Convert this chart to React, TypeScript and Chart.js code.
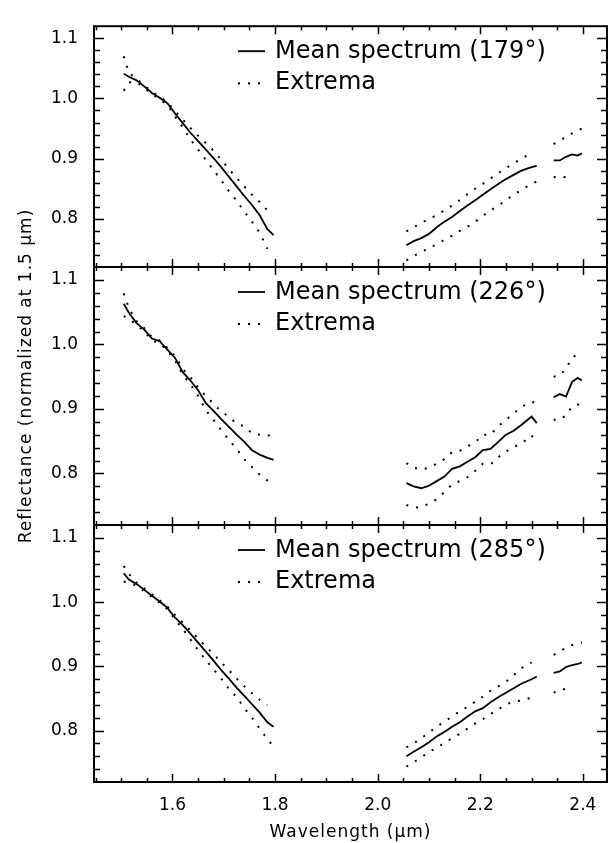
import React, { useEffect, useRef } from 'react';
import { Chart, registerables } from 'chart.js';

Chart.register(...registerables);

const FONT = '"DejaVu Sans", Verdana, sans-serif';

// Wavelength grid (µm). The entries 1.93 and 2.325 are gap markers (values null there).
const wavelength = [
  1.505, 1.515, 1.53, 1.545, 1.56, 1.575, 1.59, 1.605, 1.62, 1.635, 1.65, 1.665, 1.68, 1.695, 1.71, 1.725, 1.74, 1.755, 1.77, 1.785, 1.797,
  1.93,
  2.056, 2.07, 2.085, 2.1, 2.115, 2.13, 2.145, 2.16, 2.175, 2.19, 2.205, 2.22, 2.235, 2.25, 2.265, 2.28, 2.3, 2.31,
  2.325,
  2.343, 2.355, 2.367, 2.379, 2.39, 2.398,
];

// Panel 1 (179°)
const mean179 = [
  1.041, 1.036, 1.030, 1.020, 1.009, 1.001, 0.992, 0.975, 0.959, 0.943, 0.929, 0.915, 0.901, 0.886, 0.870, 0.854, 0.838, 0.823, 0.806, 0.783, 0.773,
  null,
  0.756, 0.763, 0.768, 0.775, 0.786, 0.795, 0.803, 0.813, 0.822, 0.831, 0.840, 0.849, 0.858, 0.866, 0.873, 0.880, 0.886, 0.888,
  null,
  0.897, 0.897, 0.903, 0.907, 0.905, 0.909,
];
const upper179 = [
  1.070, 1.043, 1.032, 1.022, 1.011, 1.003, 0.994, 0.979, 0.965, 0.951, 0.938, 0.926, 0.913, 0.898, 0.883, 0.868, 0.854, 0.840, 0.828, 0.814, null,
  null,
  0.779, 0.786, 0.793, 0.800, 0.806, 0.814, 0.822, 0.831, 0.841, 0.850, 0.858, 0.867, 0.876, 0.884, 0.892, 0.900, 0.909, null,
  null,
  0.924, 0.930, 0.936, 0.942, 0.946, 0.950,
];
const lower179 = [
  1.013, 1.027, 1.027, 1.018, 1.007, 0.999, 0.989, 0.970, 0.952, 0.932, 0.915, 0.898, 0.881, 0.864, 0.846, 0.830, 0.812, 0.795, 0.777, 0.750, null,
  null,
  0.731, 0.738, 0.745, 0.751, 0.758, 0.765, 0.772, 0.780, 0.787, 0.795, 0.805, 0.814, 0.822, 0.831, 0.840, 0.848, 0.858, 0.862,
  null,
  0.869, 0.870, 0.869, 0.867, null, null,
];

// Panel 2 (226°)
const mean226 = [
  1.063, 1.049, 1.033, 1.023, 1.009, 1.005, 0.992, 0.979, 0.957, 0.944, 0.929, 0.909, 0.897, 0.884, 0.872, 0.860, 0.849, 0.836, 0.829, 0.824, 0.821,
  null,
  0.785, 0.780, 0.777, 0.781, 0.788, 0.795, 0.807, 0.811, 0.818, 0.825, 0.836, 0.838, 0.849, 0.860, 0.866, 0.875, 0.888, 0.878,
  null,
  0.918, 0.923, 0.919, 0.942, 0.948, 0.944,
];
const upper226 = [
  1.079, 1.056, 1.036, 1.025, 1.011, 1.006, 0.995, 0.982, 0.962, 0.949, 0.933, 0.920, 0.908, 0.896, 0.888, 0.877, 0.873, 0.862, 0.860, 0.859, 0.858,
  null,
  0.816, 0.809, 0.806, 0.809, 0.815, 0.822, 0.833, 0.835, 0.842, 0.848, 0.860, 0.860, 0.873, 0.883, 0.893, 0.903, 0.911, 0.909,
  null,
  0.950, 0.952, 0.962, 0.980, 0.984, 0.987,
];
const lower226 = [
  1.044, 1.040, 1.030, 1.020, 1.006, 1.002, 0.990, 0.975, 0.953, 0.938, 0.920, 0.898, 0.883, 0.867, 0.852, 0.838, 0.822, 0.810, 0.798, 0.789, 0.784,
  null,
  0.751, 0.747, 0.748, 0.753, 0.760, 0.771, 0.783, 0.788, 0.794, 0.804, 0.815, 0.814, 0.825, 0.834, 0.841, 0.846, 0.859, 0.847,
  null,
  0.883, 0.883, 0.890, 0.904, 0.907, 0.900,
];

// Panel 3 (285°)
const mean285 = [
  1.045, 1.035, 1.028, 1.019, 1.010, 1.001, 0.991, 0.976, 0.964, 0.951, 0.937, 0.923, 0.909, 0.894, 0.881, 0.867, 0.854, 0.841, 0.828, 0.813, 0.806,
  null,
  0.760, 0.767, 0.774, 0.782, 0.791, 0.798, 0.806, 0.813, 0.822, 0.830, 0.835, 0.844, 0.852, 0.859, 0.866, 0.873, 0.880, 0.884,
  null,
  0.890, 0.892, 0.899, 0.902, 0.904, 0.906,
];
const upper285 = [
  1.056, 1.044, 1.030, 1.021, 1.012, 1.003, 0.993, 0.980, 0.968, 0.956, 0.943, 0.931, 0.919, 0.906, 0.894, 0.881, 0.869, 0.858, 0.848, 0.840, null,
  null,
  0.774, 0.780, 0.788, 0.797, 0.806, 0.814, 0.822, 0.830, 0.837, 0.845, 0.853, 0.862, 0.869, 0.876, 0.886, 0.897, 0.906, null,
  null,
  0.918, 0.923, 0.929, 0.933, 0.936, 0.937,
];
const lower285 = [
  1.032, 1.030, 1.025, 1.017, 1.008, 0.999, 0.989, 0.973, 0.958, 0.942, 0.925, 0.910, 0.895, 0.881, 0.865, 0.852, 0.835, 0.820, 0.803, 0.787, 0.775,
  null,
  0.744, 0.751, 0.758, 0.767, 0.773, 0.781, 0.788, 0.795, 0.803, 0.811, 0.818, 0.826, 0.833, 0.841, 0.845, 0.847, 0.851, null,
  null,
  0.859, 0.863, 0.865, 0.866, null, null,
];

const panelAngles = ['179°', '226°', '285°'];
const xTickLabels = [1.6, 1.8, 2.0, 2.2, 2.4];
const yTickLabels = [0.8, 0.9, 1.0, 1.1];
const X_MIN = 1.447;
const X_MAX = 2.447;
const Y_MIN = 0.72;
const Y_MAX = 1.12;
const X_MINOR_STEP = 0.05;
const Y_MINOR_STEP = 0.02;
const X_TITLE = 'Wavelength (µm)';
const Y_TITLE = 'Reflectance (normalized at 1.5 µm)';

const panels = [
  { angle: panelAngles[0], mean: mean179, upper: upper179, lower: lower179, top: 10, bottom: 267 },
  { angle: panelAngles[1], mean: mean226, upper: upper226, lower: lower226, top: 267, bottom: 525 },
  { angle: panelAngles[2], mean: mean285, upper: upper285, lower: lower285, top: 525, bottom: 782 },
];

const W = 612;
const H = 843;
const DOTS = [2, 8];

function toPoints(values: (number | null)[]) {
  return wavelength.map((x, i) => ({ x, y: values[i] }));
}

function minorValues(min: number, max: number, step: number) {
  const out: number[] = [];
  const start = Math.ceil(min / step - 1e-9);
  for (let k = start; k * step <= max + 1e-9; k++) out.push(+(k * step).toFixed(4));
  return out;
}

const framePlugin = {
  id: 'frameTicks',
  afterDraw(chart: any) {
    const { ctx, chartArea } = chart;
    const { left, right, top, bottom } = chartArea;
    const xs = chart.scales.x;
    const ys = chart.scales.y;
    ctx.save();
    ctx.strokeStyle = '#000';
    ctx.lineWidth = 1.5;
    ctx.lineCap = 'butt';
    ctx.beginPath();
    for (const v of minorValues(X_MIN, X_MAX, X_MINOR_STEP)) {
      const px = Math.round(xs.getPixelForValue(v)) + 0.5;
      if (px <= left + 1 || px >= right - 1) continue;
      const major = xTickLabels.some((t) => Math.abs(t - v) < 1e-6);
      const len = major ? 8 : 4;
      ctx.moveTo(px, bottom);
      ctx.lineTo(px, bottom - len);
      ctx.moveTo(px, top);
      ctx.lineTo(px, top + len);
    }
    for (const v of minorValues(Y_MIN, Y_MAX, Y_MINOR_STEP)) {
      const py = Math.round(ys.getPixelForValue(v)) + 0.5;
      if (py <= top + 1 || py >= bottom - 1) continue;
      const major = yTickLabels.some((t) => Math.abs(t - v) < 1e-6);
      const len = major ? 10 : 6;
      ctx.moveTo(left, py);
      ctx.lineTo(left + len, py);
      ctx.moveTo(right, py);
      ctx.lineTo(right - len, py);
    }
    ctx.stroke();
    ctx.lineWidth = 2;
    ctx.strokeRect(left, top, right - left, bottom - top);
    ctx.restore();
  },
};

const legendPlugin = {
  id: 'panelLegend',
  afterDatasetsDraw(chart: any) {
    const { ctx, chartArea } = chart;
    const ds = chart.data.datasets;
    const rows = [
      { d: ds[0], lineY: 25, textY: 32 },
      { d: ds[1], lineY: 57, textY: 63 },
    ];
    ctx.save();
    ctx.fillStyle = '#000';
    ctx.strokeStyle = '#000';
    ctx.font = `24px ${FONT}`;
    ctx.textAlign = 'left';
    ctx.textBaseline = 'alphabetic';
    for (const r of rows) {
      const y = chartArea.top + r.lineY;
      ctx.lineWidth = r.d.borderWidth;
      ctx.setLineDash(r.d.borderDash || []);
      ctx.beginPath();
      ctx.moveTo(chartArea.left + 144, y);
      ctx.lineTo(chartArea.left + 171, y);
      ctx.stroke();
      ctx.setLineDash([]);
      ctx.fillText(r.d.label, chartArea.left + 181, chartArea.top + r.textY);
    }
    ctx.restore();
  },
};

const titlesPlugin = {
  id: 'axisTitles',
  afterDraw(chart: any) {
    const { ctx, chartArea } = chart;
    ctx.save();
    ctx.fillStyle = '#000';
    ctx.font = `17px ${FONT}`;
    (ctx as any).letterSpacing = '1px';
    ctx.textAlign = 'center';
    ctx.textBaseline = 'alphabetic';
    // x title, centred under the plot area
    ctx.fillText(X_TITLE, (chartArea.left + chartArea.right) / 2, 837);
    // y title, rotated
    ctx.translate(31, 376);
    ctx.rotate(-Math.PI / 2);
    ctx.fillText(Y_TITLE, 0, 0);
    ctx.restore();
  },
};

function makeConfig(p: any, index: number): any {
  const isBottom = index === panels.length - 1;
  const lineBase = {
    borderColor: '#000',
    borderWidth: 1.8,
    pointRadius: 0,
    tension: 0,
    spanGaps: false,
    fill: false,
  };
  const dotBase = { ...lineBase, borderWidth: 2, borderDash: DOTS, borderCapStyle: 'butt' };
  return {
    type: 'line',
    data: {
      datasets: [
        { ...lineBase, label: `Mean spectrum (${p.angle})`, data: toPoints(p.mean) },
        { ...dotBase, label: 'Extrema', data: toPoints(p.upper) },
        { ...dotBase, label: 'Extrema', data: toPoints(p.lower) },
      ],
    },
    options: {
      animation: false,
      responsive: false,
      maintainAspectRatio: false,
      events: [],
      layout: {
        padding: { left: 0, right: W - 607, top: p.top, bottom: isBottom ? 0 : H - p.bottom },
      },
      scales: {
        x: {
          type: 'linear',
          min: X_MIN,
          max: X_MAX,
          display: isBottom,
          grid: { display: false, drawTicks: false },
          border: { display: false },
          afterBuildTicks: (axis: any) => {
            axis.ticks = xTickLabels.map((v) => ({ value: v }));
          },
          afterFit: (axis: any) => {
            if (isBottom) axis.height = H - p.bottom;
          },
          ticks: {
            autoSkip: false,
            maxRotation: 0,
            color: '#000',
            padding: 13,
            font: { family: FONT, size: 17 },
            callback: (v: any) => Number(v).toFixed(1),
          },
        },
        y: {
          type: 'linear',
          min: Y_MIN,
          max: Y_MAX,
          grid: { display: false, drawTicks: false },
          border: { display: false },
          afterBuildTicks: (axis: any) => {
            axis.ticks = yTickLabels.map((v) => ({ value: v }));
          },
          afterFit: (axis: any) => {
            axis.width = 94;
          },
          ticks: {
            color: '#000',
            padding: 16,
            font: { family: FONT, size: 17 },
            callback: (v: any) => Number(v).toFixed(1),
          },
        },
      },
      plugins: {
        legend: { display: false },
        tooltip: { enabled: false },
      },
    },
    plugins: isBottom ? [framePlugin, legendPlugin, titlesPlugin] : [framePlugin, legendPlugin],
  };
}

function Panel({ index }: { index: number }) {
  const ref = useRef<HTMLCanvasElement | null>(null);
  useEffect(() => {
    if (!ref.current) return;
    const chart = new Chart(ref.current, makeConfig(panels[index], index));
    return () => chart.destroy();
  }, [index]);
  return (
    <canvas
      ref={ref}
      width={W}
      height={H}
      style={{ position: 'absolute', left: 0, top: 0, width: W, height: H }}
    />
  );
}

export default function App() {
  return (
    <div style={{ position: 'absolute', left: 0, top: 0, width: W, height: H, background: '#fff' }}>
      {panels.map((_, i) => (
        <Panel key={i} index={i} />
      ))}
    </div>
  );
}
